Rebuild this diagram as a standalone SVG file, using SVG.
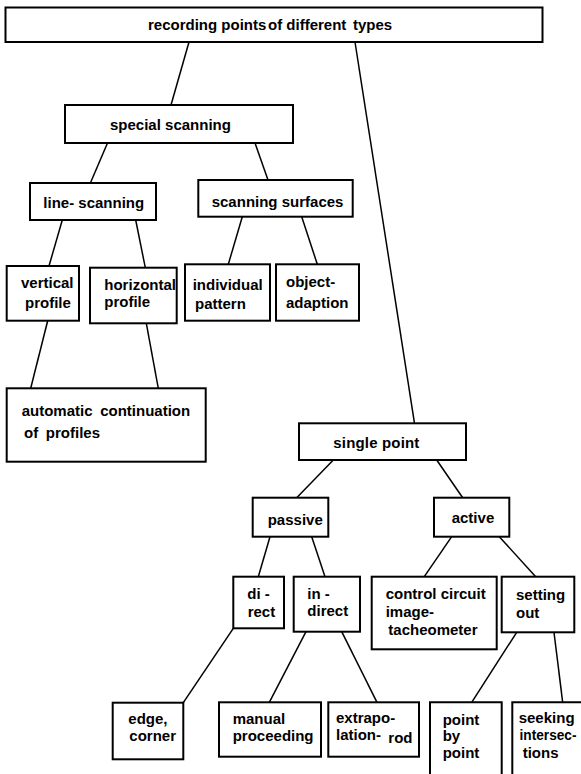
<svg xmlns="http://www.w3.org/2000/svg" width="581" height="774" viewBox="0 0 581 774">
<style>
rect, .box { fill: #ffffff; stroke: #000000; stroke-width: 2; }
.open { fill: none; stroke: #000000; stroke-width: 2; }
line { stroke: #000000; stroke-width: 1.5; }
text { font-family: "Liberation Sans", Arial, Helvetica, sans-serif; font-weight: bold; font-size: 15px; fill: #000000; }
</style>
<rect x="0" y="0" width="581" height="774" style="fill:#ffffff;stroke:none"/>
<g id="connectors">
<line x1="189" y1="42" x2="171" y2="105"/>
<line x1="355" y1="42" x2="414.5" y2="423.3"/>
<line x1="107.5" y1="143" x2="90.4" y2="183"/>
<line x1="255" y1="143" x2="268" y2="180"/>
<line x1="62.3" y1="220" x2="49" y2="266"/>
<line x1="135.7" y1="220" x2="145.3" y2="267.7"/>
<line x1="242.3" y1="216.7" x2="228.3" y2="264.3"/>
<line x1="301.7" y1="216.7" x2="317.3" y2="264.3"/>
<line x1="47.7" y1="320.7" x2="30.7" y2="388.3"/>
<line x1="146" y1="321.7" x2="158.3" y2="388.3"/>
<line x1="333.3" y1="460" x2="296.7" y2="497.7"/>
<line x1="436.7" y1="460" x2="462.7" y2="497.7"/>
<line x1="270" y1="536.7" x2="258.3" y2="576.7"/>
<line x1="311.7" y1="536.7" x2="325" y2="576.7"/>
<line x1="451.7" y1="536.7" x2="424.3" y2="576.7"/>
<line x1="499.3" y1="536.7" x2="535.7" y2="576.7"/>
<line x1="233.3" y1="628.3" x2="183.3" y2="702.7"/>
<line x1="306" y1="631.7" x2="269.3" y2="702.3"/>
<line x1="341.7" y1="631.7" x2="377" y2="702.3"/>
<line x1="516.7" y1="632.3" x2="471.7" y2="702.3"/>
<line x1="554" y1="632.3" x2="562.7" y2="702.3"/>
</g>
<g id="root">
<rect x="5.5" y="7.5" width="537" height="34.5"/>
<text x="148" y="29.5">recording points</text>
<text x="268" y="29.5">of different</text>
<text x="353" y="29.5">types</text>
</g>
<g id="special-scanning">
<rect x="65" y="105" width="228" height="38"/>
<text x="110" y="129.5">special scanning</text>
</g>
<g id="line-scanning">
<rect x="30" y="183" width="126" height="37"/>
<text x="43.3" y="208.3">line- scanning</text>
</g>
<g id="scanning-surfaces">
<rect x="198.3" y="180" width="154.4" height="36.7"/>
<text x="211.7" y="207.3">scanning surfaces</text>
</g>
<g id="vertical-profile">
<rect x="6.7" y="266" width="72.3" height="54.7"/>
<text x="21" y="288.3">vertical</text>
<text x="25" y="308.3">profile</text>
</g>
<g id="horizontal-profile">
<rect x="90" y="267.7" width="86.7" height="55.6"/>
<text x="104.3" y="290">horizontal</text>
<text x="104.3" y="307.3">profile</text>
</g>
<g id="individual-pattern">
<rect x="185" y="264.3" width="85" height="56.4"/>
<text x="192.7" y="290">individual</text>
<text x="195" y="309.3">pattern</text>
</g>
<g id="object-adaption">
<rect x="276" y="264.3" width="83" height="56.4"/>
<text x="286" y="286.7">object-</text>
<text x="286" y="308.3">adaption</text>
</g>
<g id="automatic-continuation">
<rect x="6.7" y="388.3" width="199" height="73.4"/>
<text x="21.7" y="416" word-spacing="3.5">automatic continuation</text>
<text x="24" y="438.3" word-spacing="3.5">of profiles</text>
</g>
<g id="single-point">
<rect x="299" y="423.3" width="167" height="36.7"/>
<text x="333.3" y="448.3" textLength="86" lengthAdjust="spacing">single point</text>
</g>
<g id="passive">
<rect x="252.7" y="497.7" width="75.6" height="39"/>
<text x="267.7" y="525">passive</text>
</g>
<g id="active">
<rect x="434" y="497.7" width="75.3" height="39"/>
<text x="451.7" y="523.3">active</text>
</g>
<g id="direct">
<rect x="233.3" y="576.7" width="50.7" height="51.6"/>
<text x="247.3" y="599.3">di -</text>
<text x="247.7" y="616.7">rect</text>
</g>
<g id="indirect">
<rect x="293.7" y="576.7" width="66.3" height="55"/>
<text x="307.3" y="599.3">in -</text>
<text x="307.3" y="616">direct</text>
</g>
<g id="control-circuit">
<rect x="371.7" y="576.7" width="125" height="72.6"/>
<text x="385.7" y="599.3">control circuit</text>
<text x="385.7" y="617.3">image-</text>
<text x="388.3" y="635">tacheometer</text>
</g>
<g id="setting-out">
<rect x="501.7" y="576.7" width="72.6" height="55.6"/>
<text x="516" y="600">setting</text>
<text x="516" y="618.3">out</text>
</g>
<g id="edge-corner">
<rect x="112.7" y="702.7" width="70.6" height="56.6"/>
<text x="128.3" y="724.3">edge,</text>
<text x="129.3" y="741">corner</text>
</g>
<g id="manual-proceeding">
<rect x="219" y="702.3" width="102" height="54.4"/>
<text x="232.7" y="724.3">manual</text>
<text x="232.7" y="741">proceeding</text>
</g>
<g id="extrapolation-rod">
<rect x="328.3" y="702.3" width="90.7" height="54.4"/>
<text x="336" y="723.3">extrapo-</text>
<text x="336" y="740">lation-</text>
<text x="388.3" y="742.7">rod</text>
</g>
<g id="point-by-point">
<path class="open" d="M430,778 V702.3 H501.7 V778"/>
<text x="442.7" y="725">point</text>
<text x="442.7" y="741">by</text>
<text x="442.7" y="758.3">point</text>
</g>
<g id="seeking-intersections">
<path class="open" d="M512.3,778 V702.3 H590"/>
<text x="518.7" y="723.3">seeking</text>
<text x="519.5" y="740" textLength="57" lengthAdjust="spacingAndGlyphs">intersec-</text>
<text x="522.7" y="758.3">tions</text>
</g>
</svg>
